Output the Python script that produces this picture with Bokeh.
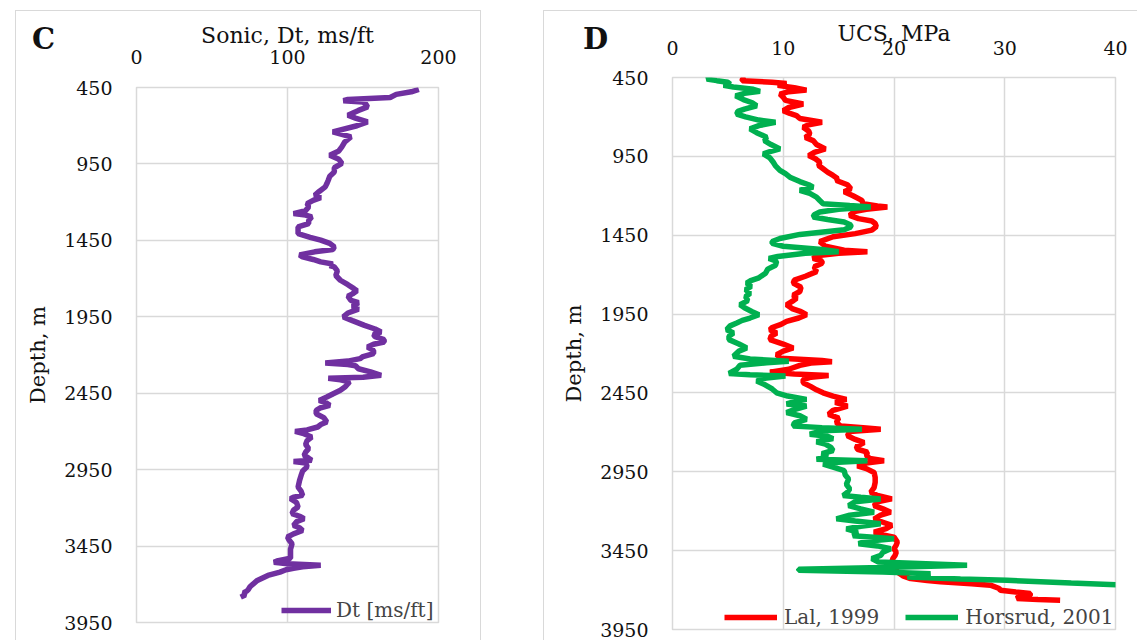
from bokeh.plotting import figure
from bokeh.layouts import row
from bokeh.models import Range1d, FixedTicker, Legend, LegendItem, Div
from bokeh.embed import file_html
from bokeh.resources import INLINE

FONT = "DejaVu Serif"
GRID = "#d9d9d9"

# ---------------- data ----------------
depth_ticks = [450, 950, 1450, 1950, 2450, 2950, 3450, 3950]
sonic_ticks = [0, 100, 200]
ucs_ticks = [0, 10, 20, 30, 40]

dt_depth = [463, 478, 495, 515, 528, 536, 545, 560, 577, 600, 631, 650, 675, 700, 740, 773, 805, 838,
            865, 893, 920, 947, 975, 1002, 1030, 1057, 1080, 1100, 1130, 1155, 1170, 1188, 1210, 1231,
            1255, 1275, 1285, 1297, 1320, 1340, 1362, 1406, 1430, 1449, 1470, 1493, 1510, 1525, 1545,
            1558, 1575, 1591, 1605, 1615, 1624, 1650, 1680, 1711, 1740, 1766, 1780, 1800, 1815, 1842,
            1858, 1880, 1900, 1925, 1951, 1975, 2006, 2030, 2049, 2065, 2080, 2100, 2115, 2130, 2148,
            2170, 2191, 2210, 2224, 2240, 2252, 2262, 2270, 2290, 2310, 2333, 2345, 2352, 2362, 2375,
            2388, 2410, 2431, 2455, 2475, 2497, 2515, 2529, 2545, 2562, 2584, 2610, 2638, 2655, 2671,
            2690, 2700, 2712, 2737, 2760, 2785, 2813, 2835, 2857, 2875, 2889, 2897, 2906, 2930, 2960,
            2988, 3020, 3064, 3090, 3118, 3130, 3140, 3165, 3195, 3215, 3238, 3255, 3271, 3290, 3315,
            3330, 3348, 3370, 3391, 3410, 3435, 3470, 3500, 3530, 3548, 3556, 3565, 3575, 3585, 3595,
            3605, 3620, 3642, 3675, 3700, 3718, 3735, 3745, 3755, 3770, 3784]
dt_value = [187, 182, 172, 168, 140, 137, 150, 152, 153, 147, 140, 145, 153, 146, 130, 142, 138, 136,
            134, 128, 134, 136, 131, 131, 128, 127, 126, 125, 121, 118, 122, 117, 113, 114,
            112, 104, 112, 116, 114, 114, 107, 107, 115, 122, 128, 131, 130, 118, 108,
            110, 117, 122, 130, 128, 131, 133, 132, 135, 140, 144, 146, 143, 140, 142,
            147, 143, 147, 140, 137, 143, 151, 158, 162, 157, 158, 164, 164, 157, 153,
            157, 157, 150, 148, 140, 125, 140, 145, 147, 155, 162, 150, 127, 135, 141,
            140, 138, 135, 130, 126, 121, 126, 128, 122, 119, 119, 124, 126, 122, 120,
            113, 105, 110, 116, 113, 112, 114, 112, 111, 114, 116, 104, 112, 113, 110,
            109, 108, 107, 109, 110, 104, 102, 106, 107, 104, 103, 108, 111, 106, 104,
            108, 110, 104, 100, 101, 103, 102, 102, 102, 93, 91, 100, 122, 110, 104,
            99, 95, 87, 80, 77, 75, 74, 73, 71, 72, 69]

lal_depth = [450, 460, 470, 480, 488, 500, 515, 530, 540, 555, 575, 595, 618, 640, 660, 678, 692, 710,
             734, 750, 766, 790, 808, 830, 850, 875, 903, 925, 945, 965, 987, 1008, 1029, 1050, 1071,
             1090, 1103, 1130, 1155, 1175, 1200, 1229, 1250, 1265, 1271, 1285, 1300, 1324, 1345, 1360,
             1376, 1395, 1418, 1440, 1460, 1491, 1520, 1545, 1555, 1565, 1580, 1597, 1615, 1628, 1650,
             1681, 1710, 1735, 1754, 1780, 1807, 1830, 1850, 1870, 1891, 1915, 1935, 1954, 1975, 1996,
             2015, 2035, 2049, 2070, 2090, 2112, 2140, 2165, 2185, 2207, 2230, 2245, 2252, 2260, 2275,
             2300, 2318, 2330, 2340, 2350, 2365, 2386, 2410, 2430, 2449, 2470, 2491, 2510, 2533, 2560,
             2586, 2610, 2638, 2660, 2672, 2680, 2695, 2722, 2745, 2765, 2790, 2807, 2825, 2845, 2865,
             2880, 2895, 2912, 2930, 2954, 2985, 3017, 3050, 3080, 3100, 3122, 3140, 3165, 3185, 3206,
             3225, 3250, 3270, 3290, 3310, 3333, 3350, 3364, 3396, 3415, 3438, 3460, 3480, 3500, 3522,
             3555, 3585, 3610, 3627, 3640, 3648, 3660, 3669, 3690, 3701, 3712, 3722, 3735, 3745, 3753,
             3760, 3764]
lal_value = [6.6, 6.3, 6.3, 9.0, 10.3, 9.5, 11.0, 12.1, 10.5, 9.7, 10.0, 10.2, 11.8, 10.5, 10.0, 10.6, 11.2, 11.5,
             13.5, 12.3, 11.8, 12.3, 12.4, 12.0, 12.7, 13.0, 13.8, 12.8, 12.3, 12.9, 13.3, 13.2, 13.6, 14.0, 14.5,
             14.9, 14.8, 15.8, 16.1, 15.5, 16.3, 17.1, 17.2, 18.5, 19.4, 17.5, 16.4, 16.0, 16.8, 18.0,
             18.3, 18.4, 18.0, 16.5, 14.5, 13.3, 13.8, 15.5, 17.6, 15.0, 13.0, 12.7, 13.5, 13.5, 12.8,
             13.0, 12.0, 11.0, 10.9, 11.6, 11.5, 10.9, 11.2, 10.8, 10.3, 10.8, 11.6, 12.1, 11.4, 10.3,
             9.8, 9.0, 8.8, 9.4, 8.9, 8.8, 10.0, 10.9, 10.0, 9.4, 9.8, 13.5, 14.4, 12.5, 11.5,
             10.5, 8.8, 11.0, 14.1, 12.5, 11.8, 11.8, 12.5, 13.0, 13.6, 14.5, 15.7, 14.7, 15.8, 14.5,
             14.1, 15.0, 14.8, 15.2, 17.5, 18.8, 16.0, 15.8, 16.5, 17.3, 16.6, 16.7, 17.6, 17.5, 17.8,
             19.1, 17.5, 16.7, 17.5, 18.2, 18.3, 18.3, 18.2, 17.9, 18.5, 19.8, 18.5, 18.2, 19.0, 19.7,
             18.8, 18.2, 19.0, 19.8, 19.3, 18.2, 19.0, 20.0, 20.3, 20.2, 20.0, 20.2, 20.1, 19.9, 19.8,
             20.0, 20.3, 20.8, 21.5, 23.0, 24.2, 27.0, 28.7, 29.5, 29.6, 31.0, 32.3, 32.3, 31.2, 31.1,
             33.0, 35.0]

hor_depth = [450, 460, 470, 480, 492, 500, 510, 525, 538, 550, 566, 590, 610, 629, 650, 665, 682, 700,
             720, 734, 755, 776, 800, 829, 850, 875, 903, 920, 934, 960, 987, 1010, 1039, 1060, 1082,
             1110, 1130, 1145, 1165, 1185, 1208, 1230, 1250, 1262, 1271, 1285, 1303, 1320, 1334, 1350,
             1366, 1385, 1397, 1415, 1429, 1445, 1471, 1490, 1502, 1520, 1540, 1555, 1565, 1585, 1597,
             1615, 1640, 1665, 1691, 1720, 1740, 1754, 1775, 1795, 1818, 1840, 1865, 1891, 1910, 1935,
             1954, 1975, 1990, 2007, 2025, 2049, 2070, 2090, 2112, 2140, 2165, 2185, 2217, 2235, 2249,
             2258, 2275, 2300, 2327, 2335, 2343, 2355, 2375, 2400, 2425, 2449, 2470, 2491, 2505, 2520,
             2533, 2555, 2575, 2595, 2617, 2640, 2659, 2670, 2680, 2690, 2712, 2725, 2740, 2760, 2775,
             2795, 2815, 2835, 2855, 2870, 2880, 2890, 2901, 2920, 2943, 2970, 2996, 3030, 3059, 3080,
             3101, 3112, 3122, 3140, 3164, 3185, 3206, 3225, 3248, 3262, 3280, 3295, 3312, 3333, 3355,
             3375, 3390, 3406, 3420, 3438, 3460, 3480, 3500, 3522, 3543, 3555, 3568, 3575, 3585, 3596,
             3610, 3617, 3630, 3638, 3655, 3669]
hor_value = [3.3, 3.1, 4.0, 5.0, 5.2, 4.6, 5.5, 7.3, 7.9, 6.5, 5.7, 6.4, 7.2, 7.6, 6.5, 5.9, 5.8, 6.6,
             7.8, 9.3, 7.8, 7.0, 7.6, 8.5, 8.3, 8.9, 9.7, 8.8, 8.2, 8.8, 9.1, 9.3, 9.7, 10.2, 10.6,
             11.5, 12.3, 12.7, 11.5, 12.4, 13.0, 13.3, 13.6, 16.0, 17.9, 15.0, 13.3, 12.8, 12.7, 14.0,
             15.5, 16.1, 16.1, 15.5, 13.6, 11.5, 9.7, 9.0, 9.0, 10.0, 13.5, 15.0, 12.0, 9.5, 8.7,
             9.4, 9.3, 8.6, 8.4, 7.8, 7.0, 6.7, 7.1, 6.6, 7.0, 6.6, 6.8, 6.1, 6.5, 7.2,
             7.8, 7.0, 6.3, 5.8, 5.2, 4.9, 5.5, 5.1, 5.1, 6.0, 6.7, 6.0, 5.5, 7.0, 10.5,
             8.5, 6.1, 5.8, 5.1, 7.0, 10.2, 8.5, 7.6, 8.4, 9.0, 9.4, 10.4, 12.1, 11.0, 10.3,
             12.1, 11.0, 10.3, 11.5, 12.1, 11.0, 10.9, 13.5, 17.1, 13.5, 12.4, 14.0, 14.5, 13.0, 13.8,
             14.3, 14.5, 13.5, 14.0, 13.0, 17.6, 15.0, 13.6, 14.5, 15.5, 15.6, 15.9, 15.7, 16.0, 15.8,
             15.4, 17.0, 18.8, 16.5, 15.9, 17.0, 18.2, 16.0, 14.8, 16.5, 18.8, 17.0, 15.7, 16.7, 16.3,
             20.0, 17.5, 16.8, 18.5, 19.7, 19.0, 18.8, 18.0, 18.6, 26.6, 20.0, 11.4, 11.4, 19.0, 23.3,
             22.0, 21.2, 26.0, 30.2, 36.0, 41.0]


def make_panel(width, mb_left, mb_right, mb_top, mb_bottom, xmax, xticks, xlabel,
               tick_standoff, label_standoff):
    p = figure(width=width, height=640, x_range=Range1d(0, xmax), y_range=Range1d(3950, 450),
               x_axis_location="above", output_backend="svg", toolbar_location=None,
               min_border_left=mb_left, min_border_right=mb_right,
               min_border_top=mb_top, min_border_bottom=mb_bottom)
    p.background_fill_color = "white"
    p.border_fill_color = "white"
    p.outline_line_color = GRID
    p.outline_line_width = 1.5
    p.xaxis.ticker = FixedTicker(ticks=xticks)
    p.yaxis.ticker = FixedTicker(ticks=depth_ticks)
    p.xgrid.ticker = FixedTicker(ticks=xticks)
    p.ygrid.ticker = FixedTicker(ticks=depth_ticks)
    p.grid.grid_line_color = GRID
    p.grid.grid_line_width = 1.5
    for ax in (p.xaxis[0], p.yaxis[0]):
        ax.axis_line_color = None
        ax.major_tick_line_color = None
        ax.minor_tick_line_color = None
        ax.major_tick_out = 0
        ax.major_tick_in = 0
        ax.minor_tick_out = 0
        ax.minor_tick_in = 0
        ax.major_label_text_font = FONT
        ax.major_label_text_font_size = "19px"
        ax.major_label_text_color = "#111111"
        ax.axis_label_text_font = FONT
        ax.axis_label_text_font_style = "normal"
        ax.axis_label_text_color = "#111111"
    p.xaxis.axis_label = xlabel
    p.xaxis.axis_label_text_font_size = "22px"
    p.xaxis.major_label_standoff = tick_standoff
    p.xaxis.axis_label_standoff = label_standoff
    p.yaxis.axis_label = "Depth, m"
    p.yaxis.axis_label_text_font_size = "21px"
    p.yaxis.major_label_standoff = 24
    p.yaxis.axis_label_standoff = 11
    return p


# ---------------- panel C ----------------
pc = make_panel(506, 136, 68, 87, 18, 200, sonic_ticks, "Sonic, Dt, ms/ft", 24, -1)
rc = pc.line(dt_value, dt_depth, line_color="#7030A0", line_width=5.5)
leg_c = Legend(items=[LegendItem(label="Dt [ms/ft]", renderers=[rc])], location=(145, 0),
               orientation="horizontal", padding=0, margin=0, border_line_color=None,
               background_fill_alpha=0, glyph_width=50, glyph_height=20, label_standoff=5,
               label_text_font=FONT, label_text_font_size="20px")
pc.add_layout(leg_c)

# ---------------- panel D (own root, so its frame is not aligned with panel C) ----------------
pd_ = make_panel(631, 166, 22, 77, 11, 40, ucs_ticks, "UCS, MPa", 23, -8)
pd_.styles = {"position": "absolute", "left": "506px", "top": "0px", "z-index": "0"}
rl = pd_.line(lal_value, lal_depth, line_color="#FF0000", line_width=5.5)
rh = pd_.line(hor_value, hor_depth, line_color="#00B050", line_width=5.5)
leg_d = Legend(items=[LegendItem(label="Lal, 1999", renderers=[rl]),
                      LegendItem(label="Horsrud, 2001", renderers=[rh])],
               location=(52, 0), orientation="horizontal", padding=0, margin=0,
               border_line_color=None, background_fill_alpha=0, glyph_width=53, glyph_height=20,
               label_standoff=7, spacing=26, label_text_font=FONT, label_text_font_size="20px")
pd_.add_layout(leg_d)

# ---------------- panel letters and chart-area borders ----------------
def letter(txt, left):
    return Div(text=txt, styles={"position": "absolute", "left": f"{left}px", "top": "20px",
                                 "font-family": FONT, "font-weight": "bold", "font-size": "29px",
                                 "line-height": "1", "color": "#111111", "z-index": "3000",
                                 "pointer-events": "none", "max-width": "none"})


def frame_box(left, width, left_border, right_border):
    return Div(text="", styles={"position": "absolute", "left": f"{left}px", "top": "5px",
                                "width": f"{width}px", "height": "635px",
                                "min-width": f"{width}px", "max-width": "none",
                                "max-height": "none",
                                "box-sizing": "border-box",
                                "border-top": f"1.5px solid {GRID}",
                                "border-left": f"1.5px solid {GRID}" if left_border else "none",
                                "border-right": f"1.5px solid {GRID}" if right_border else "none",
                                "z-index": "2000", "pointer-events": "none"})


layout = row(pc, frame_box(10, 466, True, True),
             frame_box(538, 300, True, False), frame_box(837, 300, False, False),
             letter("C", 27), letter("D", 578))
open("out.html", "w").write(file_html([layout, pd_], INLINE))
